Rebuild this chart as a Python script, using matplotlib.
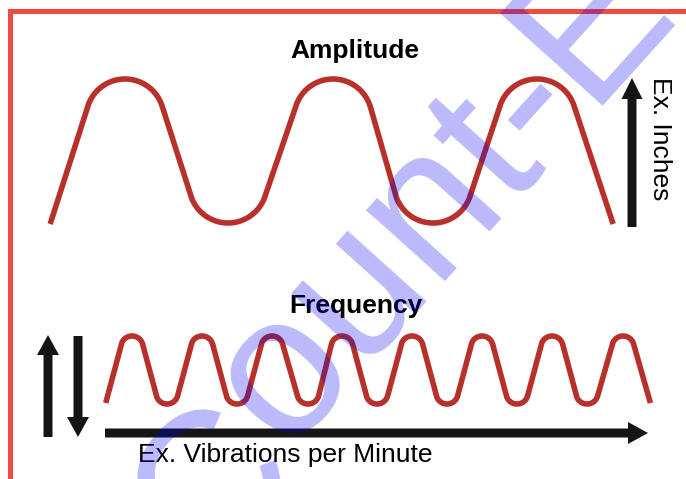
# Amplitude / Frequency sketch
# pixel coordinates of the original picture are used as data units

import numpy as np
import matplotlib.pyplot as plt

# top wave (amplitude): x of the tops and bottoms, and their y levels
amp_peaks_x = [125, 333, 537]
amp_troughs_x = [228, 433]
amp_peak_y = 79
amp_trough_y = 223
amp_end_y = [224, 224]   # where the wave is cut at left / right
amp_round = 39           # radius of the rounded tops

# bottom wave (frequency)
freq_peaks_x = [132, 202, 272, 342, 412, 482, 552, 623]
freq_troughs_x = [167, 237, 308, 377, 447, 517, 587]
freq_peak_y = 336
freq_trough_y = 404
freq_end_y = [403, 403]
freq_round = 11

# labels
title_top = "Amplitude"
title_bottom = "Frequency"
label_y = "Ex. Inches"
label_x = "Ex. Vibrations per Minute"
watermark = ["C", "ount-E"]

wave_col = "#b8302a"
border_col = "#ef4b3f"
arrow_col = "#151515"


def rounded_wave(peaks_x, troughs_x, peak_y, trough_y, r, end_y):
    # straight lines with round arcs at every top and bottom
    apex = [(x, 1) for x in peaks_x] + [(x, -1) for x in troughs_x]
    apex.sort()
    # one more apex on each side, only to get the direction of the end lines
    apex = [(2 * apex[0][0] - apex[1][0], -apex[0][1])] + apex + \
           [(2 * apex[-1][0] - apex[-2][0], -apex[-1][1])]
    cen = []
    for x, k in apex:
        if k == 1:
            cen.append(np.array([x, -peak_y - r]))
        else:
            cen.append(np.array([x, -trough_y + r]))
    n_ap = len(apex)
    seg = []
    for i in range(n_ap - 1):
        D = cen[i + 1] - cen[i]
        d = np.hypot(D[0], D[1])
        phi = np.arctan2(D[1], D[0])
        beta = np.arcsin(2 * r / d)
        if apex[i][1] == 1:
            a = phi - beta
            n = np.array([-np.sin(a), np.cos(a)])
        else:
            a = phi + beta
            n = np.array([np.sin(a), -np.cos(a)])
        seg.append((cen[i] + r * n, cen[i + 1] - r * n, n))

    xs, ys = [], []
    # first line, extended down to the cut level
    t1, t2, n = seg[0]
    yy = -end_y[0]
    tt = (yy - t2[1]) / (t1[1] - t2[1])
    p0 = t2 + tt * (t1 - t2)
    xs += [p0[0], t2[0]]
    ys += [p0[1], t2[1]]
    for i in range(1, n_ap - 1):
        a_in = np.arctan2(-seg[i - 1][2][1], -seg[i - 1][2][0])
        a_out = np.arctan2(seg[i][2][1], seg[i][2][0])
        ang = np.linspace(a_in, a_out, 40)
        xs += list(cen[i][0] + r * np.cos(ang))
        ys += list(cen[i][1] + r * np.sin(ang))
        if i < n_ap - 2:
            xs.append(seg[i][1][0])
            ys.append(seg[i][1][1])
    # last line
    t1, t2, n = seg[-1]
    yy = -end_y[1]
    tt = (yy - t1[1]) / (t2[1] - t1[1])
    p1 = t1 + tt * (t2 - t1)
    xs.append(p1[0])
    ys.append(p1[1])
    return np.array(xs), -np.array(ys)


fig = plt.figure(figsize=(6.86, 4.79), dpi=100)
ax = fig.add_axes([0, 0, 1, 1])
ax.set_xlim(0, 686)
ax.set_ylim(479, 0)
ax.axis("off")

# red frame (top and left only)
ax.plot([10, 10, 686], [479, 10.5, 10.5], color=border_col, lw=3.6,
        solid_joinstyle="miter", solid_capstyle="butt")

x, y = rounded_wave(amp_peaks_x, amp_troughs_x, amp_peak_y, amp_trough_y,
                    amp_round, amp_end_y)
ax.plot(x, y, color=wave_col, lw=4, solid_capstyle="butt")

x, y = rounded_wave(freq_peaks_x, freq_troughs_x, freq_peak_y, freq_trough_y,
                    freq_round, freq_end_y)
ax.plot(x, y, color=wave_col, lw=4, solid_capstyle="butt")

# arrows
ax.arrow(632, 227, 0, -149, width=9, head_width=21, head_length=21,
         length_includes_head=True, color=arrow_col, lw=0)
ax.arrow(48, 437, 0, -102, width=9, head_width=22, head_length=20,
         length_includes_head=True, color=arrow_col, lw=0)
ax.arrow(78, 336, 0, 101, width=9, head_width=22, head_length=20,
         length_includes_head=True, color=arrow_col, lw=0)
ax.arrow(105, 433, 543, 0, width=9, head_width=22, head_length=20,
         length_includes_head=True, color=arrow_col, lw=0)

# texts
ax.text(355, 58, title_top, fontsize=19, fontweight="bold",
        family="Liberation Sans", ha="center", va="baseline")
ax.text(356, 313, title_bottom, fontsize=19, fontweight="bold",
        family="Liberation Sans", ha="center", va="baseline")
ax.text(138, 462, label_x, fontsize=19, family="Liberation Sans",
        ha="left", va="baseline")
ax.text(653, 77, label_y, fontsize=19, family="Liberation Sans",
        rotation=-90, rotation_mode="anchor", ha="left", va="baseline")

# watermark across the picture (the C sits a bit closer to the rest)
wm = dict(fontsize=144, family="Liberation Sans", color="#0000f0",
          alpha=0.27, rotation=48, rotation_mode="anchor",
          ha="left", va="baseline", zorder=10)
ax.text(206, 577, watermark[0], **wm)
ax.text(285, 450, watermark[1], **wm)

plt.savefig("out.png", dpi=100)
